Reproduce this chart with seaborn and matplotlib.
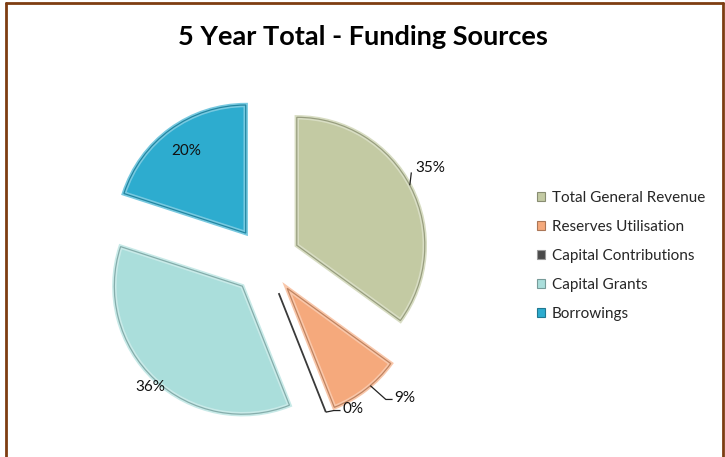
import numpy as np
import matplotlib
matplotlib.use("Agg")
import matplotlib.pyplot as plt
from matplotlib.patches import Wedge, Rectangle
from matplotlib.lines import Line2D
from matplotlib.colors import to_rgb
import seaborn as sns

# Funding sources and their share of the 5 year total (%)
sources = ["Total General Revenue", "Reserves Utilisation", "Capital Contributions",
           "Capital Grants", "Borrowings"]
shares = [35, 9, 0, 36, 20]
share_labels = ["35%", "9%", "0%", "36%", "20%"]
title = "5 Year Total - Funding Sources"

colors = ["#c3caa3", "#f5a97c", "#404040", "#aadedb", "#2daccf"]

sns.set_theme(style="white")
plt.rcParams["font.family"] = ["Lato", "DejaVu Sans"]


def shade(c, f):
    """Lighten (f > 0) or darken (f < 0) a colour."""
    rgb = np.array(to_rgb(c))
    if f > 0:
        return tuple(rgb + (1 - rgb) * f)
    return tuple(rgb * (1 + f))


W, H = 725, 457
fig = plt.figure(figsize=(W / 100, H / 100), dpi=100)
fig.patch.set_facecolor("white")

# pie axes: 128 px per data unit
ax = fig.add_axes([66 / W, 6 / H, 400 / W, 380 / H])

wedges, _ = ax.pie(shares, colors=colors, startangle=90, counterclock=False,
                   explode=[0.27] * len(shares), radius=1.0,
                   wedgeprops=dict(linewidth=3.2))
for w, c, v in zip(wedges, colors, shares):
    if v == 0:
        w.set_edgecolor("#3a3a3a")
        w.set_linewidth(1.3)
        continue
    w.set_edgecolor(shade(c, 0.35))
    ax.add_patch(Wedge(w.center, w.r, w.theta1, w.theta2, fill=False,
                       edgecolor=shade(c, -0.22), linewidth=0.9))

ax.set_xlim(-1.5625, 1.5625)
ax.set_ylim(-1.484, 1.484)
ax.axis("off")

# label placement: (radius from pie centre, angle in degrees, alignment)
label_layout = [(1.372, 32.0, "left"), (1.465, -46.9, "left"),
                (1.300, -62.8, "left"), (1.337, -132.6, "center"),
                (1.062, 126.0, "center")]
# where leader lines leave each wedge's arc (None: no leader)
leader_angle = [28.0, -49.5, "theta1", None, None]

for w, txt, (r, ang, ha), la in zip(wedges, share_labels, label_layout, leader_angle):
    tx, ty = r * np.cos(np.radians(ang)), r * np.sin(np.radians(ang))
    ax.text(tx, ty, txt, ha=ha, va="center", fontsize=11, color="#111111")
    if la is None:
        continue
    a0 = w.theta1 if la == "theta1" else la
    cx, cy = w.center
    p0 = (cx + w.r * np.cos(np.radians(a0)), cy + w.r * np.sin(np.radians(a0)))
    if txt == "35%":
        xs = [p0[0], p0[0] + 0.012]
        ys = [p0[1], ty - 0.035]
    else:
        yl = ty - 0.012
        xs = [p0[0], tx - 0.065, tx - 0.012]
        ys = [p0[1], yl, yl]
    ax.plot(xs, ys, color="#222222", lw=0.9, solid_capstyle="butt")

fig.text(0.5, 1 - 37 / H, title, ha="center", va="center",
         fontsize=19.5, fontweight="bold", color="black")

handles = [Rectangle((0, 0), 1, 1, facecolor=c if c != "#404040" else "#4a4a4a",
                     edgecolor=shade(c, -0.3) if c != "#404040" else "#9a9a9a",
                     linewidth=0.8) for c in colors]
fig.legend(handles, sources, loc="upper left",
           bbox_to_anchor=(537 / W, 1 - 191 / H), frameon=False, fontsize=11,
           handlelength=0.55, handleheight=0.55, handletextpad=0.4,
           labelspacing=0.98, borderpad=0, borderaxespad=0)

# brown frame around the chart
frame_c = "#7e3d12"
for xs, ys in [([5.5 / W, 5.5 / W], [0, 1 - 2.5 / H]),
               ([5.5 / W, 722.5 / W], [1 - 2.5 / H, 1 - 2.5 / H]),
               ([722.5 / W, 722.5 / W], [0, 1 - 2.5 / H])]:
    fig.add_artist(Line2D(xs, ys, color=frame_c, lw=2.0, transform=fig.transFigure))

fig.savefig("out.png", dpi=100)
